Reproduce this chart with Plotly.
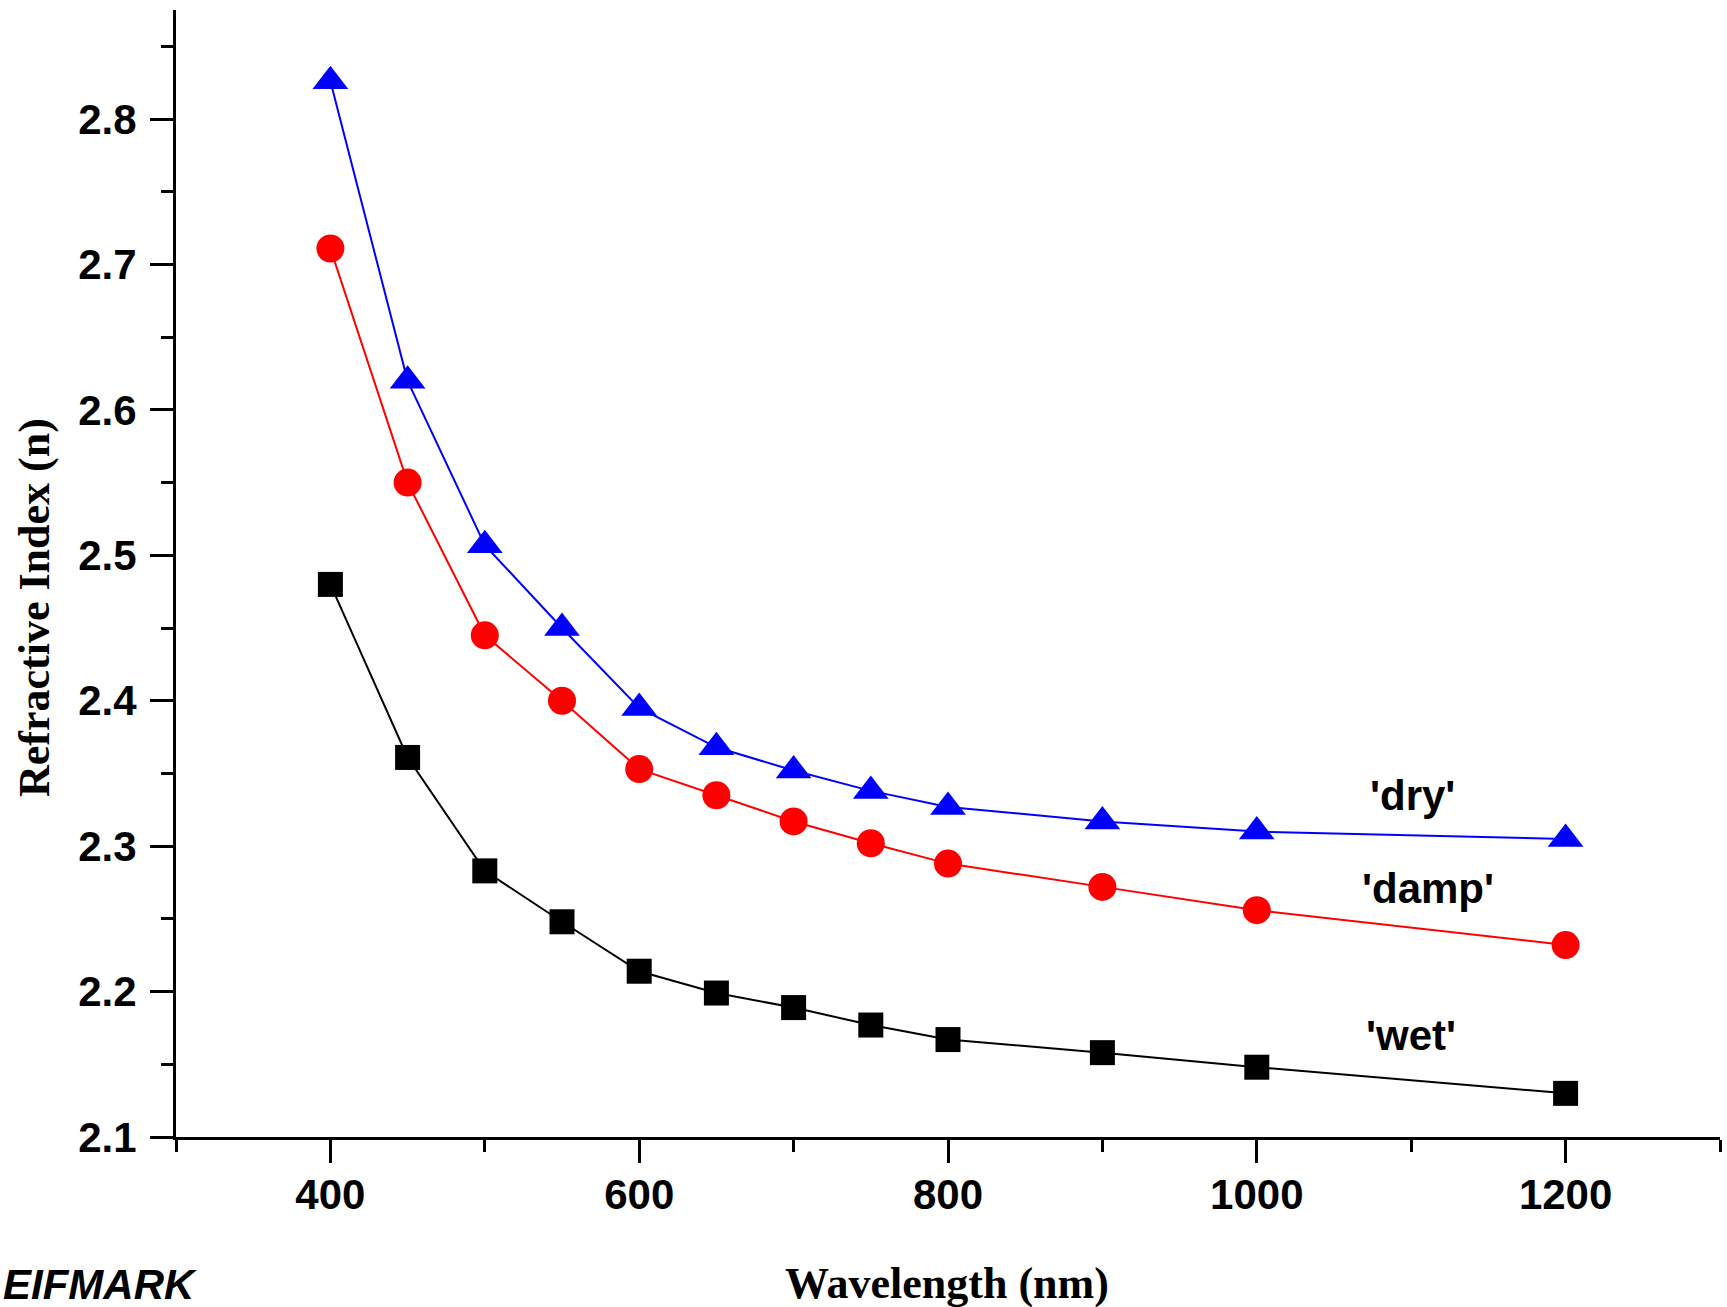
import plotly.graph_objects as go

wavelength = [400, 450, 500, 550, 600, 650, 700, 750, 800, 900, 1000, 1200]
n_dry = [2.826, 2.620, 2.507, 2.450, 2.395, 2.368, 2.352, 2.338, 2.327, 2.317, 2.310, 2.305]
n_damp = [2.711, 2.550, 2.445, 2.400, 2.353, 2.335, 2.317, 2.302, 2.288, 2.272, 2.256, 2.232]
n_wet = [2.480, 2.361, 2.283, 2.248, 2.214, 2.199, 2.189, 2.177, 2.167, 2.158, 2.148, 2.130]

labels = ["'dry'", "'damp'", "'wet'"]
label_x = [1101, 1111, 1100]
label_y = [2.335, 2.271, 2.170]

W, H = 1727, 1307
L, R, T, B = 176, 7, 10, 170
pw, ph = W - L - R, H - T - B

def px_x(p):
    return (p - L) / pw

def px_y(p):
    return (H - B - p) / ph

fig = go.Figure()
fig.add_trace(go.Scatter(x=wavelength, y=n_wet, mode="lines+markers",
                         line=dict(color="black", width=2),
                         marker=dict(symbol="square", size=25, color="black")))
fig.add_trace(go.Scatter(x=wavelength, y=n_damp, mode="lines+markers",
                         line=dict(color="#ff0000", width=2),
                         marker=dict(symbol="circle", size=28, color="#ff0000")))
fig.add_trace(go.Scatter(x=wavelength, y=n_dry, mode="lines+markers",
                         line=dict(color="#0000ff", width=2),
                         marker=dict(symbol="triangle-up", size=31, color="#0000ff")))

tickfont = dict(family="Liberation Sans, Arial, sans-serif", size=42, color="black", weight="bold")

fig.update_xaxes(range=[300, 1300], tick0=0, dtick=200, ticks="outside", ticklen=23,
                 tickwidth=3, tickcolor="black", showline=True, linewidth=3, linecolor="black",
                 showgrid=False, zeroline=False, tickfont=tickfont, ticklabelstandoff=-4,
                 minor=dict(dtick=100, ticks="outside", ticklen=12, tickwidth=3, tickcolor="black", showgrid=False))
fig.update_yaxes(range=[2.1, 2.875], tick0=2.1, dtick=0.1, tickformat=".1f", ticks="outside", ticklen=23,
                 tickwidth=3, tickcolor="black", showline=True, linewidth=3, linecolor="black",
                 showgrid=False, zeroline=False, tickfont=tickfont, ticklabelstandoff=5,
                 minor=dict(dtick=0.05, ticks="outside", ticklen=12, tickwidth=3, tickcolor="black", showgrid=False))

annotations = []
for t, x, y in zip(labels, label_x, label_y):
    annotations.append(dict(x=x, y=y, xref="x", yref="y", text=t, showarrow=False,
                            font=dict(family="Liberation Sans, Arial, sans-serif", size=42, color="black", weight="bold")))

title_font = dict(family="Liberation Serif, Times New Roman, serif", size=44, color="black", weight="bold")
annotations.append(dict(x=px_x(947), y=px_y(1283), xref="paper", yref="paper", text="Wavelength (nm)",
                        showarrow=False, font=title_font, xanchor="center", yanchor="middle"))
annotations.append(dict(x=px_x(35), y=px_y(608), xref="paper", yref="paper", text="Refractive Index (n)",
                        showarrow=False, font=title_font, xanchor="center", yanchor="middle", textangle=-90))
annotations.append(dict(x=px_x(1), y=px_y(1284), xref="paper", yref="paper", text="<i>EIFMARK</i>",
                        showarrow=False, xanchor="left", yanchor="middle",
                        font=dict(family="Liberation Sans, Arial, sans-serif",
                                  size=42, color="black", weight="bold")))

fig.update_layout(width=W, height=H, margin=dict(l=L, r=R, t=T, b=B),
                  paper_bgcolor="white", plot_bgcolor="white", showlegend=False,
                  annotations=annotations)

fig.write_html("out.html")
